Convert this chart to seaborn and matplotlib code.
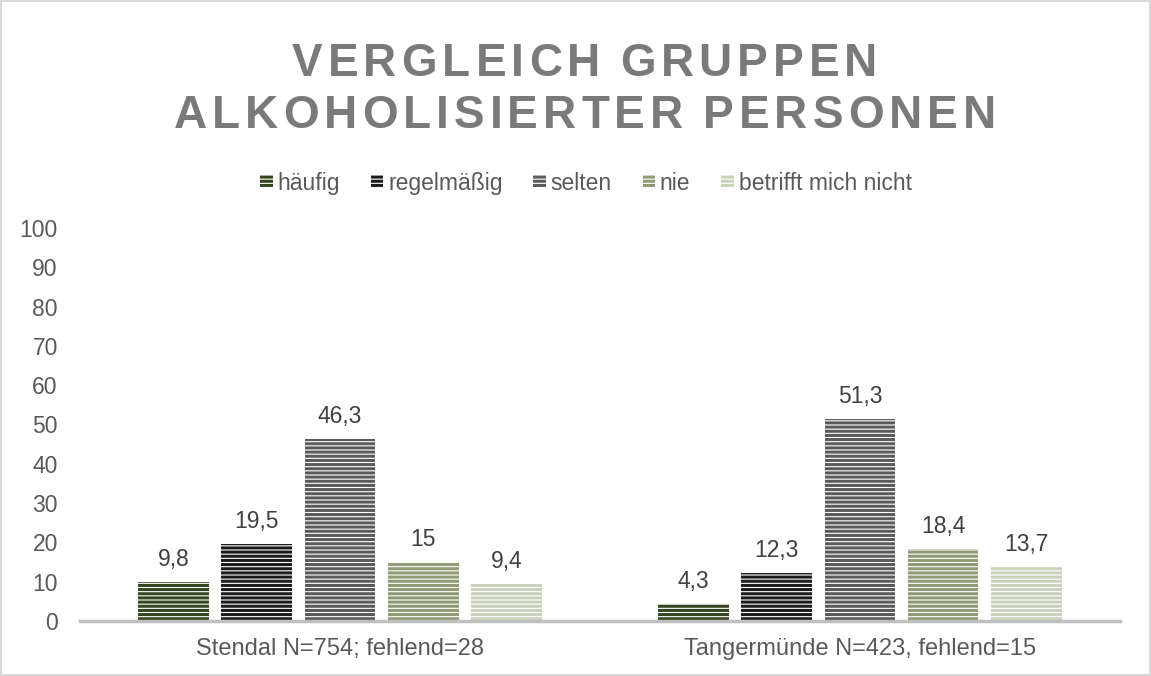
import pandas as pd
import matplotlib.pyplot as plt
import seaborn as sns
from matplotlib.patches import Patch

# Daten aus der Grafik
gruppen = ["Stendal N=754; fehlend=28", "Tangermünde N=423, fehlend=15"]
kategorien = ["häufig", "regelmäßig", "selten", "nie", "betrifft mich nicht"]
stendal = [9.8, 19.5, 46.3, 15, 9.4]
tangermuende = [4.3, 12.3, 51.3, 18.4, 13.7]
titel_zeilen = ["VERGLEICH GRUPPEN", "ALKOHOLISIERTER PERSONEN"]

farben = ["#34461f", "#1c1c1c", "#5a5a5a", "#8d9a74", "#c9d2bb"]

df = pd.DataFrame({
    "Gruppe": [gruppen[0]] * 5 + [gruppen[1]] * 5,
    "Kategorie": kategorien * 2,
    "Wert": stendal + tangermuende,
})

sns.set_style("white")
plt.rcParams["font.family"] = ["Liberation Sans", "DejaVu Sans"]
plt.rcParams["hatch.linewidth"] = 2.2

fig = plt.figure(figsize=(11.51, 6.76), dpi=100)
fig.patch.set_edgecolor("#d9d9d9")
fig.patch.set_linewidth(1.5)
ax = fig.add_axes([0.0695, 0.0814, 0.9035, 0.5813])

sns.barplot(data=df, x="Gruppe", y="Wert", hue="Kategorie", hue_order=kategorien,
            palette=farben, width=0.8, gap=0.15, ax=ax)

# Schraffur wie im Original
for cont, farbe in zip(ax.containers, farben):
    for bar in cont:
        bar.set_facecolor("white")
        bar.set_edgecolor(farbe)
        bar.set_hatch("----")
        bar.set_linewidth(0)
    ax.bar_label(cont, labels=[f"{v:g}".replace(".", ",") for v in cont.datavalues],
                 padding=8, fontsize=16.5, color="#404040")

ax.legend_.remove()
handles = [Patch(facecolor="white", edgecolor=f, hatch="----", linewidth=0, label=k)
           for k, f in zip(kategorien, farben)]
fig.legend(handles=handles, loc="center", bbox_to_anchor=(0.509, 0.729), ncol=5,
           frameon=False, fontsize=16.5, labelcolor="#595959", handlelength=0.55,
           handleheight=0.55, handletextpad=0.2, columnspacing=1.35)

ax.set_ylim(0, 100)
ax.set_xlim(-0.5, 1.5)
ax.set_yticks(range(0, 101, 10))
ax.tick_params(axis="y", labelsize=16.5, labelcolor="#595959", pad=16, length=0)
ax.tick_params(axis="x", labelsize=17, labelcolor="#595959", pad=12, length=0)
ax.set_xlabel("")
ax.set_ylabel("")
for s in ["top", "right", "left"]:
    ax.spines[s].set_visible(False)
ax.spines["bottom"].set_color("#bfbfbf")
ax.spines["bottom"].set_linewidth(2.5)

# Titel mit Sperrung (Buchstabenabstand) zeichnen
renderer = fig.canvas.get_renderer()
sperrung = 5.1  # px
for zeile, y in zip(titel_zeilen, [0.906, 0.829]):
    breiten = []
    for ch in zeile:
        t = fig.text(0, 0, ch, fontsize=33, fontweight="bold")
        breiten.append(t.get_window_extent(renderer).width if ch != " " else 0)
        t.remove()
    leer = fig.text(0, 0, "A A", fontsize=33, fontweight="bold")
    w_leer = leer.get_window_extent(renderer).width
    leer.remove()
    a = fig.text(0, 0, "AA", fontsize=33, fontweight="bold")
    w_leer -= a.get_window_extent(renderer).width
    a.remove()
    breiten = [b if ch != " " else w_leer for b, ch in zip(breiten, zeile)]
    gesamt = sum(breiten) + sperrung * (len(zeile) - 1)
    x = 1151 * 0.508 - gesamt / 2
    for ch, b in zip(zeile, breiten):
        fig.text(x / 1151, y, ch, fontsize=33, fontweight="bold", color="#7a7a7a",
                 ha="left", va="center")
        x += b + sperrung

fig.savefig("out.png", dpi=100, edgecolor=fig.get_edgecolor())
